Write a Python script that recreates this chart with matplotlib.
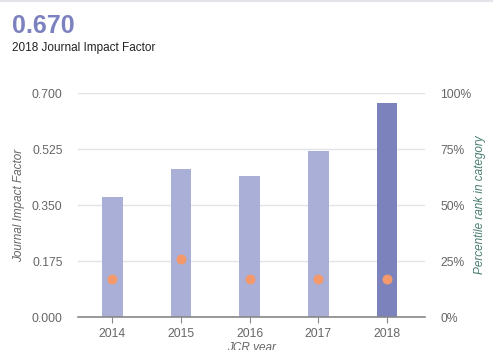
import matplotlib.pyplot as plt
import matplotlib.ticker as mticker

plt.rcParams["font.family"] = ["Liberation Sans", "DejaVu Sans"]

years = ["2014", "2015", "2016", "2017", "2018"]
jif = [0.375, 0.462, 0.440, 0.519, 0.670]
percentile = [17, 26, 17, 17, 17]

light = "#a9afd6"
dark = "#7b82bc"
dot = "#f4996b"
grey = "#666666"

fig = plt.figure(figsize=(4.93, 3.5), dpi=100)
fig.add_artist(plt.Line2D([0, 1], [0.997, 0.997], color="#e3e3ea", lw=1.5))
fig.text(0.024, 0.925, "0.670", fontsize=18, fontweight="bold", color="#7c82bf", va="center")
fig.text(0.024, 0.864, "2018 Journal Impact Factor", fontsize=8.5, color="#222222", va="center")

ax = fig.add_axes([0.158, 0.094, 0.704, 0.64])
x = range(len(years))
colors = [light] * (len(years) - 1) + [dark]
ax.bar(x, jif, width=0.3, color=colors, zorder=2)
ax.set_xlim(-0.5, 4.55)
ax.set_ylim(0, 0.7)
ax.set_yticks([0, 0.175, 0.35, 0.525, 0.7])
ax.yaxis.set_major_formatter(mticker.FormatStrFormatter("%.3f"))
ax.set_xticks(list(x))
ax.set_xticklabels(years)
ax.grid(axis="y", color="#e3e3ea", lw=1, zorder=0)
for s in ["top", "right", "left"]:
    ax.spines[s].set_visible(False)
ax.spines["bottom"].set_color("#888888")
ax.spines["bottom"].set_linewidth(1.2)
ax.tick_params(axis="y", length=0, colors=grey, labelsize=8.7, pad=11)
ax.tick_params(axis="x", length=4, color="#888888", colors=grey, labelsize=8.7)
ax.set_ylabel("Journal Impact Factor", style="italic", color=grey, fontsize=8.5, labelpad=5)
ax.set_xlabel("JCR year", style="italic", color=grey, fontsize=8.5, labelpad=2)

ax2 = ax.twinx()
ax2.scatter(x, percentile, s=38, color=dot, zorder=3)
ax2.set_ylim(0, 100)
ax2.set_yticks([0, 25, 50, 75, 100])
ax2.yaxis.set_major_formatter(mticker.FormatStrFormatter("%d%%"))
for s in ["top", "right", "left", "bottom"]:
    ax2.spines[s].set_visible(False)
ax2.tick_params(axis="y", length=0, colors=grey, labelsize=8.7, pad=11)
ax2.set_ylabel("Percentile rank in category", style="italic", color="#4a7d72", fontsize=8.5, labelpad=2)

fig.savefig("out.png", dpi=100)
